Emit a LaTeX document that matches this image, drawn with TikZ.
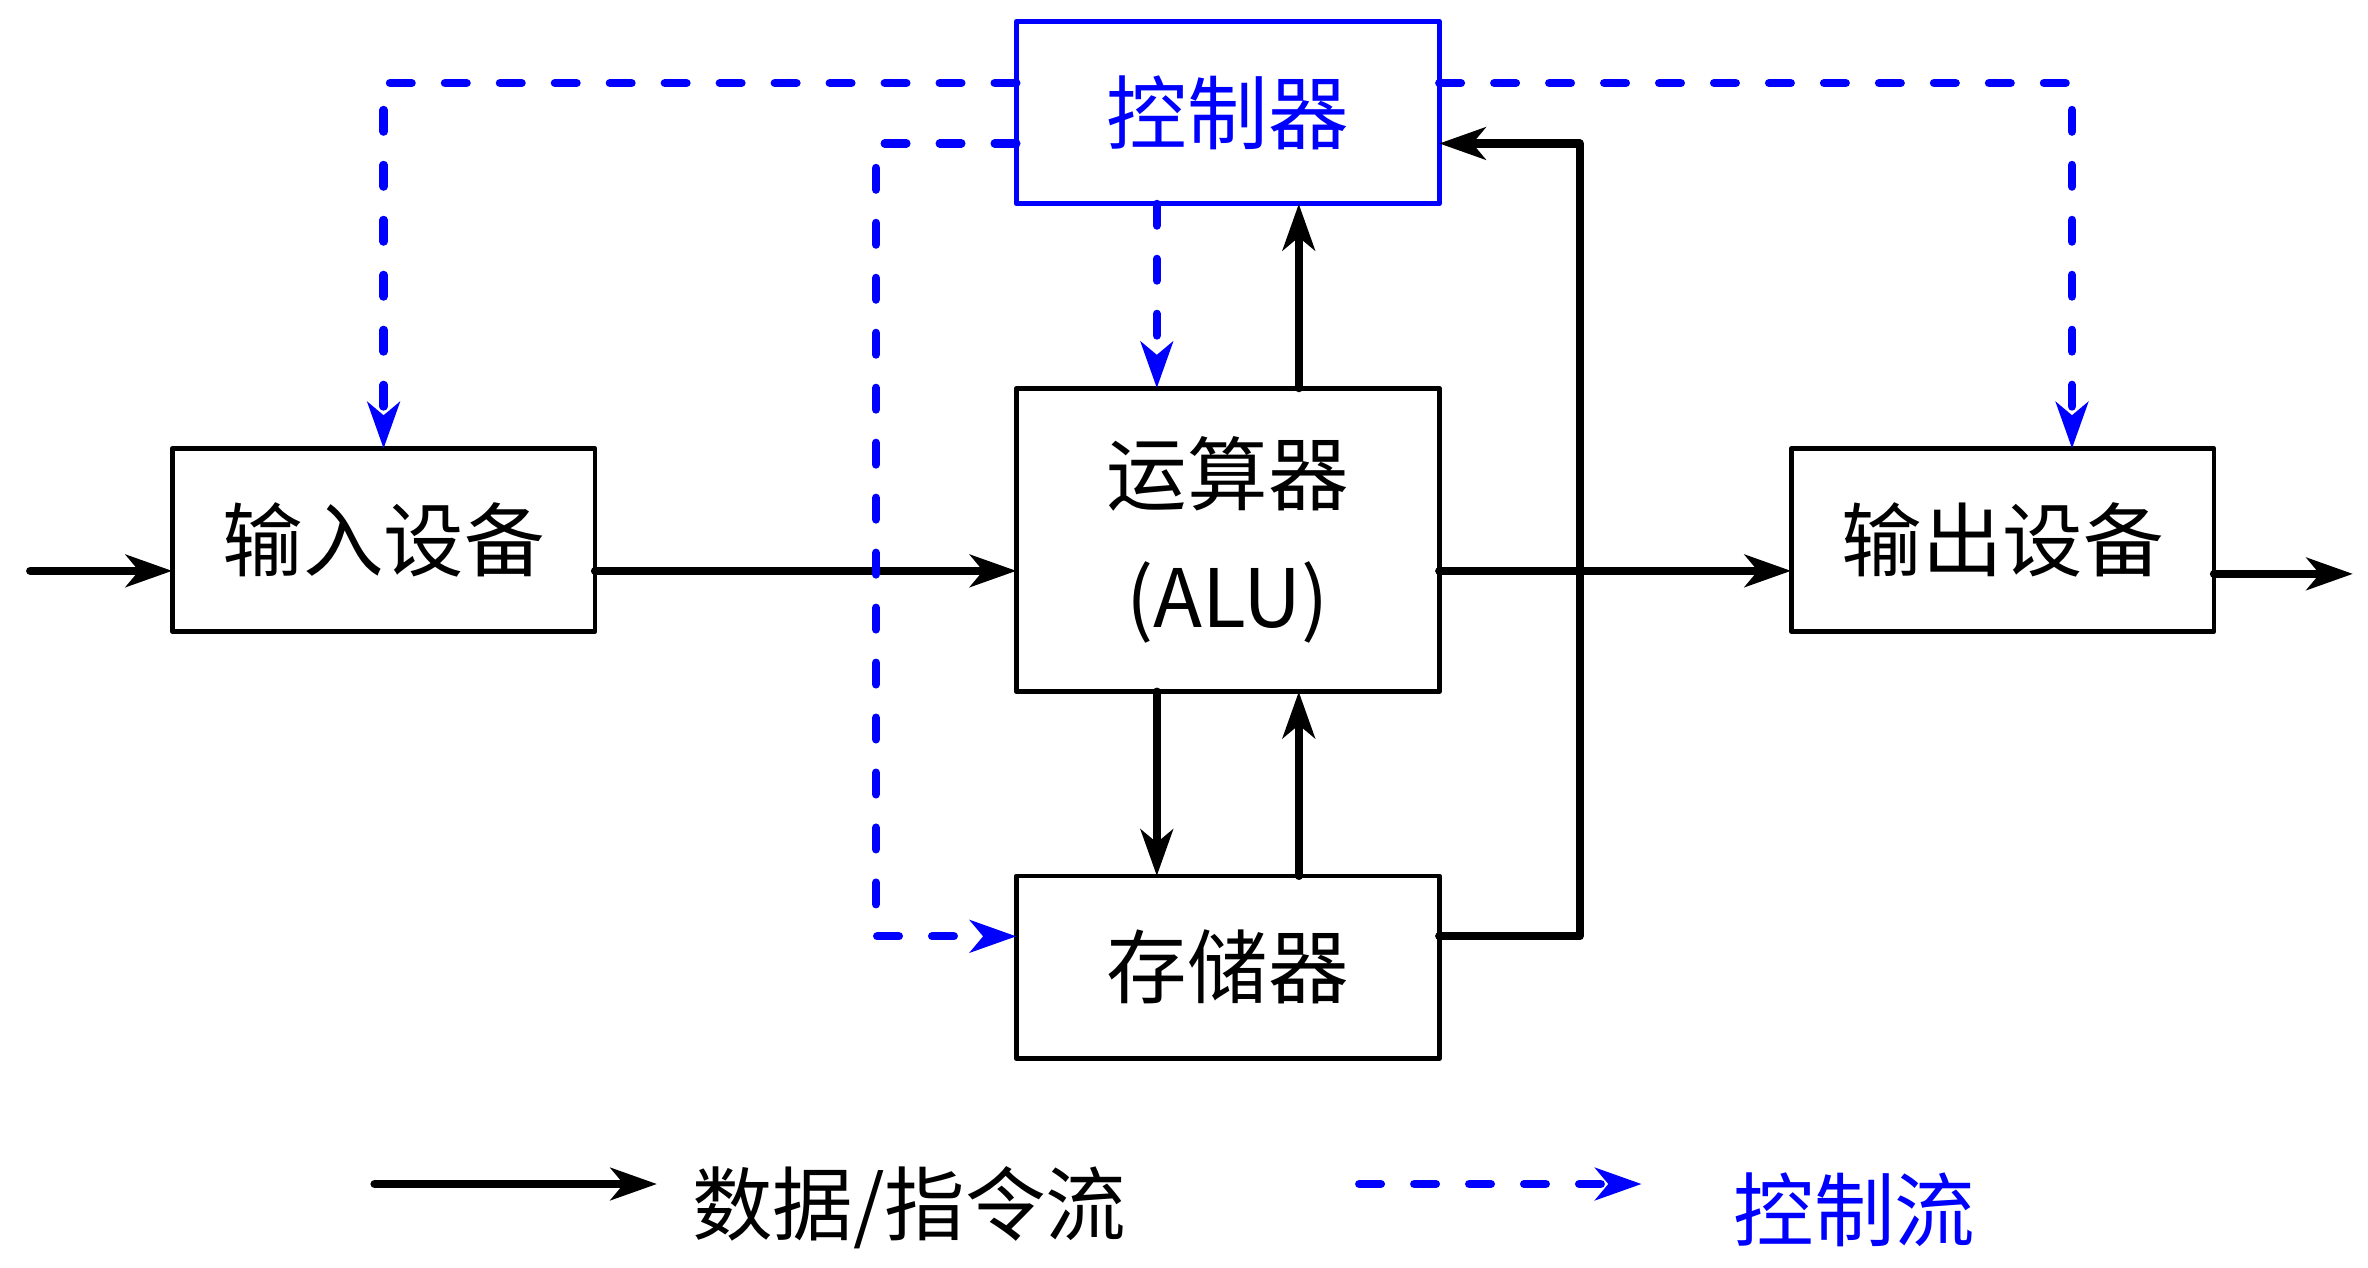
\documentclass[tikz,border=0pt]{standalone}
\usepackage{fontspec}
\setmainfont{Noto Sans CJK SC}
\usetikzlibrary{arrows.meta}
\begin{document}
\begin{tikzpicture}[x=0.75pt,y=-0.75pt,
  box/.style={draw=black, line width=2.4pt, inner sep=0pt, outer sep=0pt, minimum width=210pt, minimum height=90.75pt, font=\fontsize{40}{48}\selectfont, line join=round},
  ctrlbox/.style={box, draw=blue, text=blue},
  data/.style={draw=black, line width=4.1pt, line cap=round, line join=round, -{Stealth[length=23pt,width=16pt,inset=6.5pt]}},
  ctrl/.style={draw=blue, line width=4.1pt, line cap=round, line join=round, dash pattern=on 10.8pt off 16.5pt, -{Stealth[length=23pt,width=16pt,inset=6.5pt]}},
  lbl/.style={font=\fontsize{40}{48}\selectfont, inner sep=0pt}
]
\useasboundingbox (0,0) rectangle (1568,839);
% nodes
\node[ctrlbox] (ctl) at (813,74.5) {控制器};
\node[box, minimum height=150.75pt, align=center, font=\fontsize{40}{61.5}\selectfont] (alu) at (813,357.5) {运算器\\(ALU)};
\node[box] (mem) at (813,640.5) {存储器};
\node[box] (in) at (254,357.5) {输入设备};
\node[box] (out) at (1326,357.5) {输出设备};
% helper coordinates
\coordinate (src) at (20,378);
\coordinate (snk) at (1558,380);
\coordinate (ya) at (0,378);
\coordinate (xa) at (766,0);
\coordinate (xb) at (860,0);
\coordinate (ym) at (0,620);
\coordinate (yc) at (0,95);
\coordinate (yt) at (0,55);
\coordinate (xr) at (1046,0);
\coordinate (xm) at (580,0);
\coordinate (xo) at (1372,0);
% data connectors
\draw[data] (src) -- (in.west |- src);
\draw[data] (out.east |- snk) -- (snk);
\draw[data] (in.east |- ya) -- (alu.west |- ya);
\draw[data] (alu.east |- ya) -- (out.west |- ya);
\draw[data] (alu.north -| xb) -- (ctl.south -| xb);
\draw[data] (alu.south -| xa) -- (mem.north -| xa);
\draw[data] (mem.north -| xb) -- (alu.south -| xb);
\draw[data] (mem.east |- ym) -| (xr |- yc) -- (ctl.east |- yc);
% control connectors
\draw[ctrl] (ctl.south -| xa) -- (alu.north -| xa);
\draw[ctrl] (ctl.west |- yt) -| (in.north);
\draw[ctrl] (ctl.west |- yc) -| (xm |- ym) -- (mem.west |- ym);
\draw[ctrl] (ctl.east |- yt) -| (xo |- out.north);
% legend
\coordinate (la0) at (248,784);
\coordinate (la1) at (435,784);
\draw[data] (la0) -- (la1);
\node[lbl] (lt1) at (602,800) {数据/指令流};
\coordinate (lb0) at (900,784);
\coordinate (lb1) at (1087,784);
\draw[ctrl] (lb0) -- (lb1);
\node[lbl, text=blue] (lt2) at (1228,801) {控制流};
\end{tikzpicture}
\end{document}
